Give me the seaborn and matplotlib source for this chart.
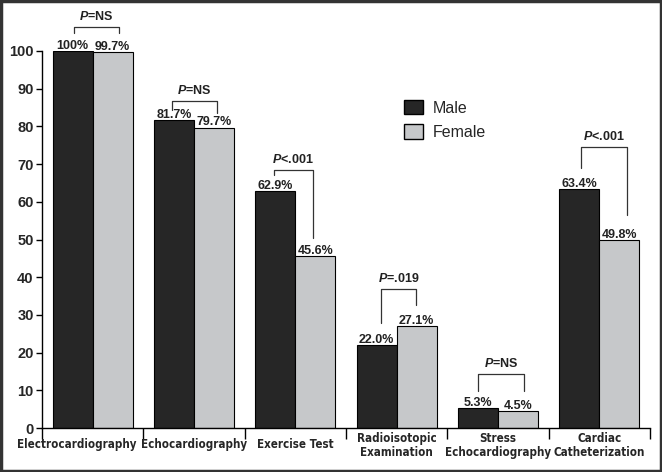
import matplotlib
matplotlib.use("Agg")
import matplotlib.pyplot as plt
from matplotlib import font_manager
from matplotlib.font_manager import FontProperties
from matplotlib.patches import Rectangle, Patch
import seaborn as sns
import pandas as pd
import numpy as np

categories = ["Electrocardiography", "Echocardiography", "Exercise Test",
              "Radioisotopic\nExamination", "Stress\nEchocardiography", "Cardiac\nCatheterization"]
male = [100.0, 81.7, 62.9, 22.0, 5.3, 63.4]
female = [99.7, 79.7, 45.6, 27.1, 4.5, 49.8]
male_labels = ["100%", "81.7%", "62.9%", "22.0%", "5.3%", "63.4%"]
female_labels = ["99.7%", "79.7%", "45.6%", "27.1%", "4.5%", "49.8%"]
p_values = ["=NS", "=NS", "<.001", "=.019", "=NS", "<.001"]

# annotation layout (bracket geometry, data units)
br_top = [106.4, 86.7, 68.4, 36.9, 14.3, 74.5]
br_left_bottom = [104.8, 84.3, 67.1, 27.9, 9.8, 69.0]
br_right_bottom = [104.8, 83.6, 50.4, 32.6, 9.8, 56.5]
br_left_dx = [-0.18, -0.22, -0.21, -0.15, -0.20, -0.18]
br_right_dx = [0.26, 0.23, 0.17, 0.19, 0.26, 0.27]

# condensed bold font for category labels
fonts = sorted(font_manager.findSystemFonts())
cond_file = None
for f in fonts:
    if "dejavusanscondensed-bold.ttf" in f.lower():
        cond_file = f
        break

sns.set_theme(style="ticks")
plt.rcParams["font.family"] = ["Liberation Sans", "DejaVu Sans"]
plt.rcParams["mathtext.fontset"] = "custom"
plt.rcParams["mathtext.it"] = "Liberation Sans:italic:bold"
plt.rcParams["mathtext.rm"] = "Liberation Sans"

if cond_file:
    xfp = FontProperties(fname=cond_file, size=8.3)
else:
    xfp = FontProperties(family="Liberation Sans", weight="bold", size=7.6)

df = pd.DataFrame({
    "cat": categories * 2,
    "val": male + female,
    "sex": ["Male"] * len(male) + ["Female"] * len(female),
})

fig = plt.figure(figsize=(6.62, 4.72), dpi=100)
ax = fig.add_axes([42 / 662, 1 - 428 / 472, 608 / 662, 377 / 472])
sns.barplot(data=df, x="cat", y="val", hue="sex", palette=["#262626", "#c6c8ca"],
            edgecolor="black", linewidth=0.8, width=0.79, ax=ax, legend=False, saturation=1)

ax.set_ylim(0, 100)
ax.set_xlim(-0.5, 5.5)
ax.set_yticks(range(0, 101, 10))
ax.set_yticklabels([str(v) for v in range(0, 101, 10)], fontsize=10.5, fontweight="bold")
ax.set_xticks(np.arange(-0.5, 5.6, 1.0))
ax.set_xticklabels([])
ax.tick_params(axis="x", length=8, width=1, color="black", direction="out")
ax.tick_params(axis="y", length=4, width=1, color="black", direction="out", pad=2)
for i, c in enumerate(categories):
    lines = c.split("\n")
    if i == 0:
        ax.text(0.4375, -5.3, c, ha="right", va="baseline", fontproperties=xfp)
    elif len(lines) == 1:
        ax.text(i, -5.3, c, ha="center", va="baseline", fontproperties=xfp)
    else:
        ax.text(i, -3.7, lines[0], ha="center", va="baseline", fontproperties=xfp)
        ax.text(i, -7.4, lines[1], ha="center", va="baseline", fontproperties=xfp)
ax.set_xlabel("")
ax.set_ylabel("")
for s in ["top", "right"]:
    ax.spines[s].set_visible(False)
for s in ["left", "bottom"]:
    ax.spines[s].set_color("black")
    ax.spines[s].set_linewidth(1)

bars = ax.patches
for bar_group, labels in zip([bars[:6], bars[6:12]], [male_labels, female_labels]):
    for b, lab in zip(bar_group, labels):
        ax.text(b.get_x() + b.get_width() / 2, b.get_height() - 0.2, lab,
                ha="center", va="bottom", fontsize=9, fontweight="bold", color="#222222")

for i in range(len(categories)):
    xl = i + br_left_dx[i]
    xr = i + br_right_dx[i]
    ax.plot([xl, xl, xr, xr], [br_left_bottom[i], br_top[i], br_top[i], br_right_bottom[i]],
            color="#333333", lw=0.9, clip_on=False)
    ax.text((xl + xr) / 2, br_top[i] + 1.0, r"$P$" + p_values[i], ha="center", va="bottom",
            fontsize=9, fontweight="bold", color="#222222", clip_on=False)

handles = [Patch(facecolor="#262626", edgecolor="black", label="Male"),
           Patch(facecolor="#c6c8ca", edgecolor="black", label="Female")]
leg = ax.legend(handles=handles, loc="upper left", bbox_to_anchor=(404 / 662, 1 - 100 / 472),
                bbox_transform=fig.transFigure, frameon=False, fontsize=11.5,
                handlelength=1.2, handleheight=1.0, handletextpad=0.6, labelspacing=0.55,
                borderaxespad=0, borderpad=0)

fig.patches.append(Rectangle((0.002, 0.003), 0.996, 0.994, transform=fig.transFigure,
                             fill=False, edgecolor="#333333", linewidth=2.5))
fig.savefig("out.png", dpi=100)
